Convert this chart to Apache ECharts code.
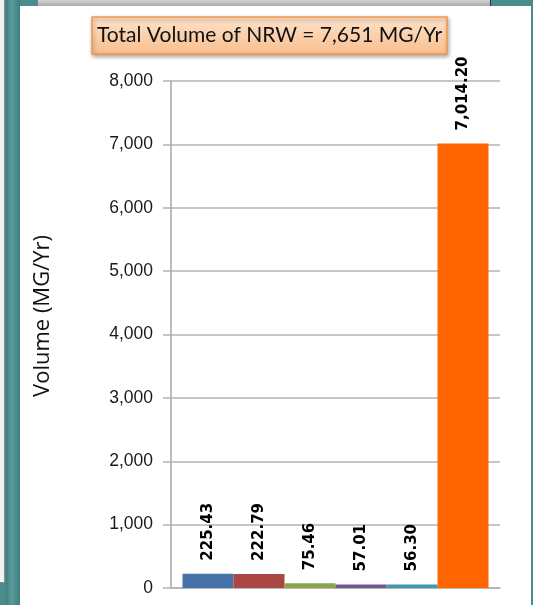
<!DOCTYPE html>
<html>
<head>
<meta charset="utf-8">
<script src="https://cdn.jsdelivr.net/npm/echarts@6/dist/echarts.min.js"></script>
<style>
  html, body { margin: 0; padding: 0; width: 533px; height: 605px; overflow: hidden; background: #4a8b8b; }
  #frame { position: absolute; left: 0; top: 0; width: 533px; height: 605px; }
  .teal-left { position: absolute; left: 6px; top: 0; width: 14px; height: 605px;
    background: linear-gradient(to right, #3e7e7e, #5a9a9a 40%, #3f7f7f); }
  .side-strip { position: absolute; left: 0; top: 0; width: 4px; height: 582px;
    background: #f2f2f2; border-right: 1px solid #8a8a8a; border-bottom: 1px solid #8a8a8a; }
  .top-bar { position: absolute; left: 38px; top: 0; width: 452px; height: 6px;
    background: linear-gradient(to bottom, #d4d4d4, #a9a9a9); border-right: 1px solid #333; }
  #chart { position: absolute; left: 20px; top: 6px; width: 511px; height: 599px; background: #ffffff; }
</style>
</head>
<body>
<div id="frame">
  <div class="side-strip"></div>
  <div class="teal-left"></div>
  <div class="top-bar"></div>
  <div id="chart"></div>
</div>
<script>
// Annual volumes of non-revenue water components (MG/Yr)
const volumes = [225.43, 222.79, 75.46, 57.01, 56.30, 7014.20];
const componentNames = ['Component 1', 'Component 2', 'Component 3', 'Component 4', 'Component 5', 'Component 6'];
const barColors = ['#4572a7', '#aa4643', '#89a54e', '#71588f', '#4198af', '#ff6600'];
const categories = ['NRW'];
const titleText = 'Total Volume of NRW = 7,651 MG/Yr';
const axisTitle = 'Volume (MG/Yr)';
const yMin = 0, yMax = 8000, yStep = 1000;

const fmt = v => v.toLocaleString('en-US', { minimumFractionDigits: 2, maximumFractionDigits: 2 });

const chart = echarts.init(document.getElementById('chart'), null, { renderer: 'canvas' });

const series = volumes.map((v, i) => ({
  name: componentNames[i],
  type: 'bar',
  data: [v],
  barWidth: 51,
  barGap: '0%',
  itemStyle: { color: barColors[i] },
  label: {
    show: true,
    position: 'top',
    rotate: 90,
    align: 'left',
    verticalAlign: 'middle',
    distance: 11,
    offset: [2, 0],
    formatter: p => fmt(p.value),
    fontFamily: 'DejaVu Sans',
    fontWeight: 'bold',
    fontSize: 15,
    color: '#000'
  }
}));

chart.setOption({
  animation: false,
  title: {
    text: titleText,
    left: 72,
    top: 11,
    padding: [8, 5, 8, 5],
    backgroundColor: {
      type: 'linear', x: 0, y: 0, x2: 0, y2: 1,
      colorStops: [{ offset: 0, color: '#fde3cc' }, { offset: 1, color: '#f9be8c' }]
    },
    borderColor: '#f79646',
    borderWidth: 1.5,
    shadowColor: 'rgba(0,0,0,0.35)',
    shadowBlur: 4,
    shadowOffsetX: 1,
    shadowOffsetY: 2,
    textStyle: { fontFamily: 'Lato', fontWeight: 'normal', fontSize: 21, color: '#111' }
  },
  // vertical axis title, set a little above the plot's middle
  graphic: [{
    type: 'text',
    left: 12,
    top: 229,
    rotation: Math.PI / 2,
    style: { text: axisTitle, font: '22px "Open Sans"', fill: '#111' }
  }],
  grid: { left: 151, right: 31, top: 75, bottom: 17, containLabel: false },
  xAxis: {
    type: 'category',
    data: categories,
    axisLine: { show: true, lineStyle: { color: '#b3b3b3', width: 1.5 } },
    axisTick: { show: false },
    axisLabel: { show: false }
  },
  yAxis: {
    type: 'value',
    min: yMin,
    max: yMax,
    interval: yStep,
    axisLine: { show: true, lineStyle: { color: '#a6a6a6', width: 1.5 } },
    axisTick: { show: true, inside: false, length: 8, lineStyle: { color: '#b3b3b3', width: 1.5 } },
    axisLabel: {
      margin: 18,
      fontFamily: 'Liberation Sans',
      fontSize: 17.5,
      color: '#1a1a1a',
      formatter: v => v.toLocaleString('en-US')
    },
    splitLine: { show: true, lineStyle: { color: '#b3b3b3', width: 1.5 } }
  },
  series: series
});
</script>
</body>
</html>
